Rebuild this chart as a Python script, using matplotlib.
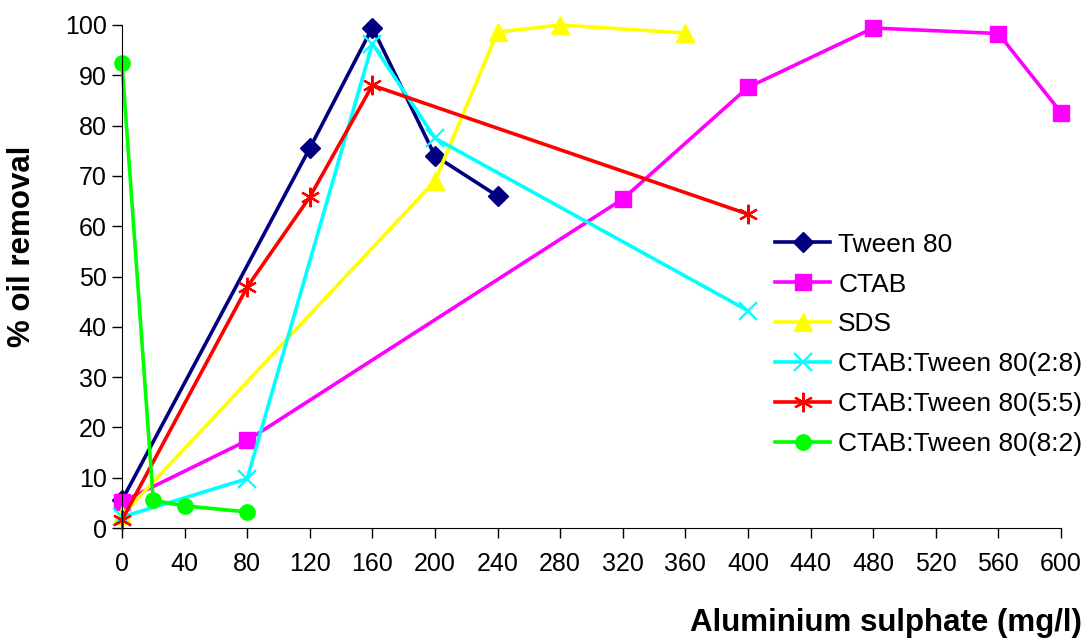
import numpy as np
import matplotlib.pyplot as plt

plt.rcParams['font.family'] = ['Liberation Sans', 'DejaVu Sans']

# Oil removal (%) against aluminium sulphate dose (mg/l)
tween_x = [0, 120, 160, 200, 240]
tween_y = [5.5, 75.5, 99.5, 74, 66]

ctab_x = [0, 80, 320, 400, 480, 560, 600]
ctab_y = [5.2, 17.4, 65.4, 87.6, 99.4, 98.3, 82.6]

sds_x = [0, 200, 240, 280, 360]
sds_y = [2.5, 69, 98.6, 100, 98.4]

mix28_x = [0, 80, 160, 200, 400]
mix28_y = [2.2, 9.8, 96.3, 77.5, 43.2]

mix55_x = [0, 80, 120, 160, 400]
mix55_y = [1.6, 47.9, 65.8, 88, 62.4]

mix82_x = [0, 20, 40, 80]
mix82_y = [92.4, 5.5, 4.4, 3.2]

xticks = np.arange(0, 601, 40)
yticks = np.arange(0, 101, 10)

fig = plt.figure(figsize=(10.92, 6.44), dpi=100)
ax = fig.add_axes([0.1117, 0.1801, 0.8599, 0.7811])

lw = 2.6
ax.plot(tween_x, tween_y, color='#000080', lw=lw, marker='D', ms=10, label='Tween 80', clip_on=False)
ax.plot(ctab_x, ctab_y, color='#ff00ff', lw=lw, marker='s', ms=11, label='CTAB', clip_on=False)
ax.plot(sds_x, sds_y, color='#ffff00', lw=lw, marker='^', ms=13, label='SDS', clip_on=False)
ax.plot(mix28_x, mix28_y, color='#00ffff', lw=lw, marker='x', ms=13, mew=1.6,
        label='CTAB:Tween 80(2:8)', clip_on=False)
ax.plot(mix55_x, mix55_y, color='#ff0000', lw=lw, marker=(6, 2, 0), ms=14, mew=1.6,
        label='CTAB:Tween 80(5:5)', clip_on=False)
ax.plot(mix82_x, mix82_y, color='#00ff00', lw=lw, marker='o', ms=11,
        label='CTAB:Tween 80(8:2)', clip_on=False)

ax.set_xlim(0, 600)
ax.set_ylim(0, 100)
ax.set_xticks(xticks)
ax.set_yticks(yticks)
ax.tick_params(labelsize=18, length=7, width=1, direction='out', pad=10)
ax.tick_params(axis='y', pad=4)
for side in ['top', 'right']:
    ax.spines[side].set_visible(False)

ax.set_ylabel('% oil removal', fontsize=22.5, fontweight='bold')
ax.yaxis.set_label_coords(-0.09, 0.56)
fig.text(0.991, 0.009, 'Aluminium sulphate (mg/l)', fontsize=22.5, fontweight='bold',
         ha='right', va='bottom')

ax.legend(loc='upper left', bbox_to_anchor=(0.700, 0.655), bbox_transform=fig.transFigure,
          frameon=False, fontsize=19, handlelength=2.1, handletextpad=0.3,
          labelspacing=0.6, borderaxespad=0)

fig.savefig('out.png', dpi=100)
